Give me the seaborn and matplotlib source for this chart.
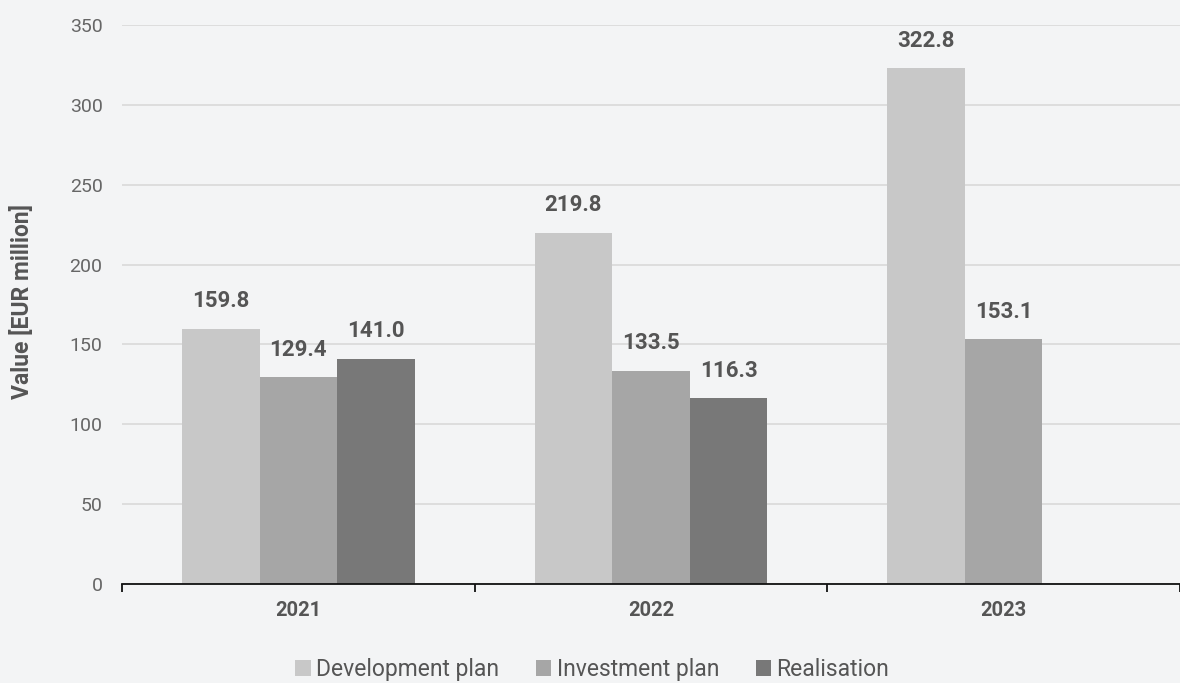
import numpy as np
import pandas as pd
import matplotlib
matplotlib.use("Agg")
import matplotlib.pyplot as plt
import seaborn as sns
from matplotlib.patches import Patch

# ----------------------------------------------------------
# DATA
# ----------------------------------------------------------

years = ["2021", "2022", "2023"]
series = ["Development plan", "Investment plan", "Realisation"]
development_plan = [159.8, 219.8, 322.8]
investment_plan = [129.4, 133.5, 153.1]
realisation = [141.0, 116.3, np.nan]
y_ticks = [0, 50, 100, 150, 200, 250, 300, 350]

colors = ["#c8c8c8", "#a6a6a6", "#787878"]
BG = "#f3f4f5"
TXT = "#555555"

df = pd.DataFrame({
    "year": years * 3,
    "series": [s for s in series for _ in years],
    "value": development_plan + investment_plan + realisation,
})

sns.set_theme(style="white")
plt.rcParams["font.family"] = ["Roboto", "DejaVu Sans"]

fig = plt.figure(figsize=(11.8, 6.83), dpi=100)
fig.patch.set_facecolor(BG)
ax = fig.add_axes([122 / 1180, 1 - 584 / 683, 1 - 122 / 1180, (584 - 25) / 683])
ax.set_facecolor(BG)

sns.barplot(data=df, x="year", y="value", hue="series", hue_order=series,
            palette=colors, width=0.66, saturation=1, linewidth=0,
            ax=ax, legend=False)

for cont in ax.containers:
    labels = ["" if np.isnan(v) else f"{v:.1f}" for v in cont.datavalues]
    ax.bar_label(cont, labels=labels, padding=12, fontsize=16,
                 fontweight="bold", color=TXT)

ax.set_xlim(-0.5, 2.5)
ax.set_ylim(0, 350)
ax.set_yticks(y_ticks)
ax.yaxis.grid(True, color="#d9d9d9", linewidth=1.2)
ax.set_axisbelow(True)

for s in ["top", "right", "left"]:
    ax.spines[s].set_visible(False)
ax.spines["bottom"].set_color("#111111")
ax.spines["bottom"].set_linewidth(1.3)

ax.set_xticks([-0.5, 0.5, 1.5, 2.5], minor=True)
ax.tick_params(axis="x", which="minor", length=6, width=1.3, color="#111111",
               direction="out", bottom=True)
ax.tick_params(axis="x", which="major", length=0, pad=12, labelsize=14.5,
               labelcolor=TXT)
for lbl in ax.get_xticklabels():
    lbl.set_fontweight("bold")
ax.tick_params(axis="y", length=0, pad=14, labelsize=14, labelcolor="#666666")

ax.set_xlabel("")
ax.set_ylabel("")
fig.text(22 / 1180, 1 - 302 / 683, "Value [EUR million]", rotation=90,
         ha="center", va="center", fontsize=16.5, fontweight="bold", color=TXT)

handles = [Patch(facecolor=c, edgecolor="none") for c in colors]
leg = fig.legend(handles, series, loc="center", bbox_to_anchor=(0.502, 0.02),
                 ncol=3, frameon=False, fontsize=16.5, handlelength=0.68,
                 handleheight=0.68, handletextpad=0.23, columnspacing=1.6)
for t in leg.get_texts():
    t.set_color(TXT)

fig.savefig("out.png", dpi=100, facecolor=BG)
